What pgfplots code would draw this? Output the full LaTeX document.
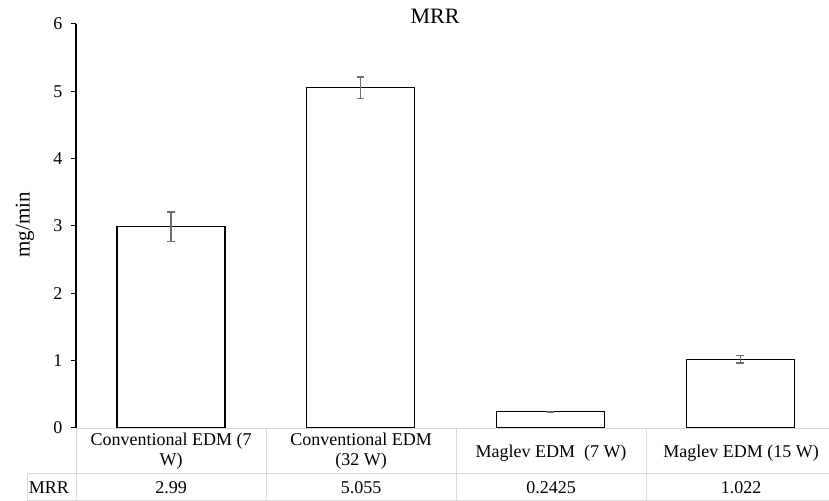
\documentclass[border=0pt]{standalone}
\usepackage{pgfplots}
\pgfplotsset{compat=1.18}
\usepackage{fontspec}
\setmainfont{Liberation Serif}
\definecolor{gridgray}{HTML}{D9D9D9}
\definecolor{errgray}{HTML}{6E6E6E}
\begin{document}
\begin{tikzpicture}
\path[use as bounding box] (0,0) rectangle (829bp,501bp);
\begin{axis}[
  at={(76bp,73bp)}, anchor=south west,
  width=753bp, height=404bp, scale only axis,
  xmin=-0.5, xmax=3.468, ymin=0, ymax=6,
  axis x line=none, axis y line*=left,
  y axis line style={black, line width=1.2bp},
  ytick={0,1,2,3,4,5,6},
  tick align=outside, major tick length=5bp,
  ytick style={black, line width=1bp},
  yticklabel style={font=\fontsize{18bp}{21bp}\selectfont, xshift=-5bp, /pgf/number format/assume math mode=true},
  clip=false,
]
\addplot[ybar, bar width=108bp, fill=white, draw=black, line width=1.3bp,
  error bars/.cd, y dir=both, y explicit,
  error bar style={errgray, line width=1.3bp},
  error mark options={errgray, rotate=90, mark size=3.8bp, line width=1.3bp}]
  table[x=x, y=y, y error=e] {
x y e
0 2.99 0.22
1 5.055 0.16
2 0.2425 0.006
3 1.022 0.055
};
\end{axis}
% table grid
\draw[gridgray, line width=1bp] (76bp,72bp) -- (829bp,72bp);
\draw[gridgray, line width=1bp] (27bp,27bp) -- (829bp,27bp);
\draw[gridgray, line width=1bp] (27bp,0.5bp) -- (829bp,0.5bp);
\draw[gridgray, line width=1bp] (27bp,0bp) -- (27bp,27bp);
\foreach \xx in {76,266,456,646} {\draw[gridgray, line width=1bp] (\xx bp,0bp) -- (\xx bp,72bp);}
% header texts
\begin{scope}[every node/.style={font=\fontsize{18bp}{20bp}\selectfont, align=center, inner sep=0pt}]
\node at (171bp,50bp) {Conventional EDM (7\\W)};
\node at (361bp,50bp) {Conventional EDM\\(32 W)};
\node at (551bp,48bp) {Maglev EDM\ \ (7 W)};
\node at (741bp,48bp) {Maglev EDM (15 W)};
\node at (171bp,13bp) {2.99};
\node at (361bp,13bp) {5.055};
\node at (551bp,13bp) {0.2425};
\node at (741bp,13bp) {1.022};
\node at (49bp,13bp) {MRR};
\end{scope}
\node[font=\fontsize{22bp}{26bp}\selectfont, inner sep=0pt] at (435bp,485bp) {MRR};
\node[font=\fontsize{21bp}{24bp}\selectfont, rotate=90, inner sep=0pt] at (25bp,276bp) {mg/min};
\end{tikzpicture}
\end{document}
